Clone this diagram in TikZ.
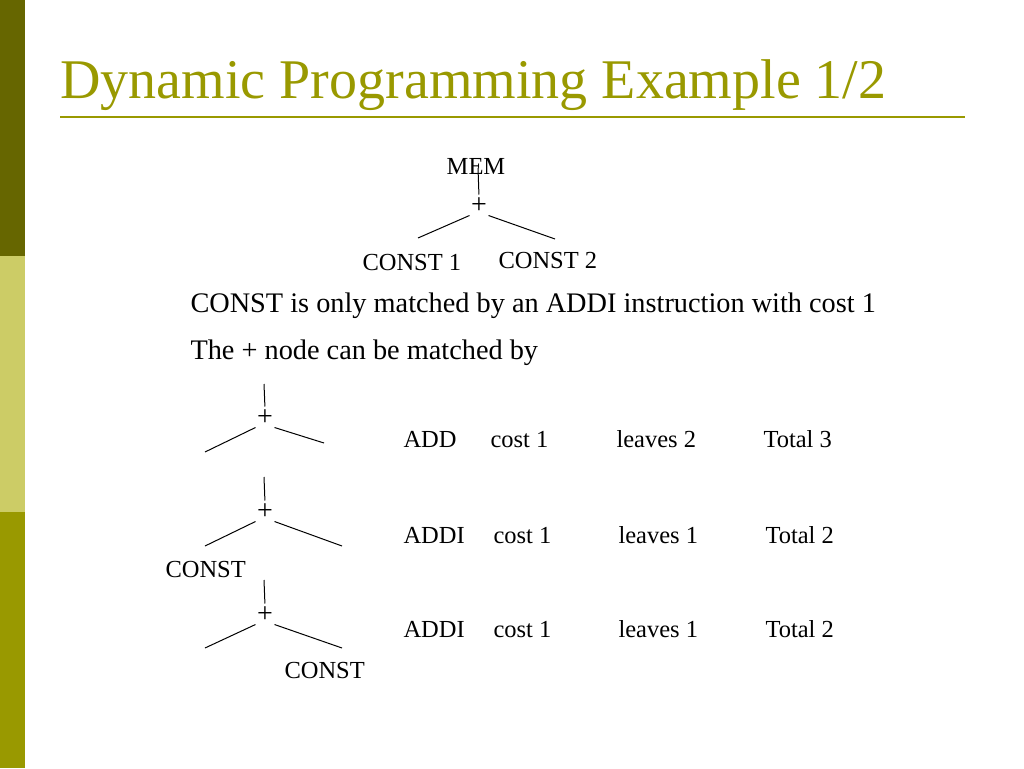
\documentclass[tikz,border=0pt]{standalone}
\usepackage{fontspec}
\setmainfont{Liberation Serif}
\usetikzlibrary{positioning}

\definecolor{olivedark}{RGB}{102,102,0}
\definecolor{olivelight}{RGB}{204,204,102}
\definecolor{olivemid}{RGB}{153,153,0}

\begin{document}
\begin{tikzpicture}[x=1pt,y=-1pt,line width=1pt,
    txt/.style={anchor=base west,inner sep=0pt,font=\fontsize{28.3}{34}\selectfont},
    sm/.style={anchor=base west,inner sep=0pt,font=\fontsize{24.5}{29}\selectfont},
    plus/.style={inner sep=0pt,minimum size=18pt,font=\fontsize{28}{32}\selectfont},
    stem/.style={shorten >=2pt}]

    \useasboundingbox (0,0) rectangle (1024,768);

    % the side bar
    \fill[olivedark] (0,0) rectangle (25,256);
    \fill[olivelight] (0,256) rectangle (25,512);
    \fill[olivemid] (0,512) rectangle (25,768);

    % the title
    \node[anchor=base west,inner sep=0pt,text=olivemid,
      font=\fontsize{56}{64}\selectfont] (title) at (60,98)
      {Dynamic Programming Example 1/2};
    \draw[olivemid,line width=2pt] (60,117) -- (965,117);

    % the tree
    \node[sm,anchor=base] (mem) at (476,174) {MEM};
    \node[plus] (p0) at (479,206) {+};
    \node[sm] (n1) at (362,270) {CONST 1};
    \node[sm] (n2) at (498,268) {CONST 2};
    \coordinate (l0) at (418,238);
    \coordinate (r0) at (555,239);
    \draw[stem] (mem.center) ++(2,2) -- (p0.north);
    \draw (p0.south west) -- (l0);
    \draw (p0.south east) -- (r0);

    % the texts
    \node[txt] (t1) at (190,312) {CONST is only matched by an ADDI instruction with cost 1};
    \node[txt] (t2) at (190,359) {The + node can be matched by};

    % the patterns
    \node[plus] (p1) at (265,418) {+};
    \coordinate (u1) at (264,384);
    \coordinate (l1) at (205,452);
    \coordinate (r1) at (324,443);
    \draw[stem] (u1) -- (p1.north);
    \draw (p1.south west) -- (l1);
    \draw (p1.south east) -- (r1);

    \node[plus] (p2) at (265,512) {+};
    \coordinate (u2) at (264,477);
    \coordinate (l2) at (205,546);
    \coordinate (r2) at (342,546);
    \draw[stem] (u2) -- (p2.north);
    \draw (p2.south west) -- (l2);
    \draw (p2.south east) -- (r2);
    \node[sm] (k2) at (165,577) {CONST};

    \node[plus] (p3) at (265,615) {+};
    \coordinate (u3) at (264,580);
    \coordinate (l3) at (205,648);
    \coordinate (r3) at (342,648);
    \draw[stem] (u3) -- (p3.north);
    \draw (p3.south west) -- (l3);
    \draw (p3.south east) -- (r3);
    \node[sm] (k3) at (284,678) {CONST};

    % the costs
    \node[sm] (a1) at (403,447) {ADD};
    \node[sm] (b1) at (490,447) {cost 1};
    \node[sm] (c1) at (616,447) {leaves 2};
    \node[sm] (d1) at (763,447) {Total 3};

    \foreach \y/\n in {543/2,637/3} {
      \node[sm] (a\n) at (403,\y) {ADDI};
      \node[sm] (b\n) at (493,\y) {cost 1};
      \node[sm] (c\n) at (618,\y) {leaves 1};
      \node[sm] (d\n) at (765,\y) {Total 2};
    }

  \end{tikzpicture}
\end{document}
